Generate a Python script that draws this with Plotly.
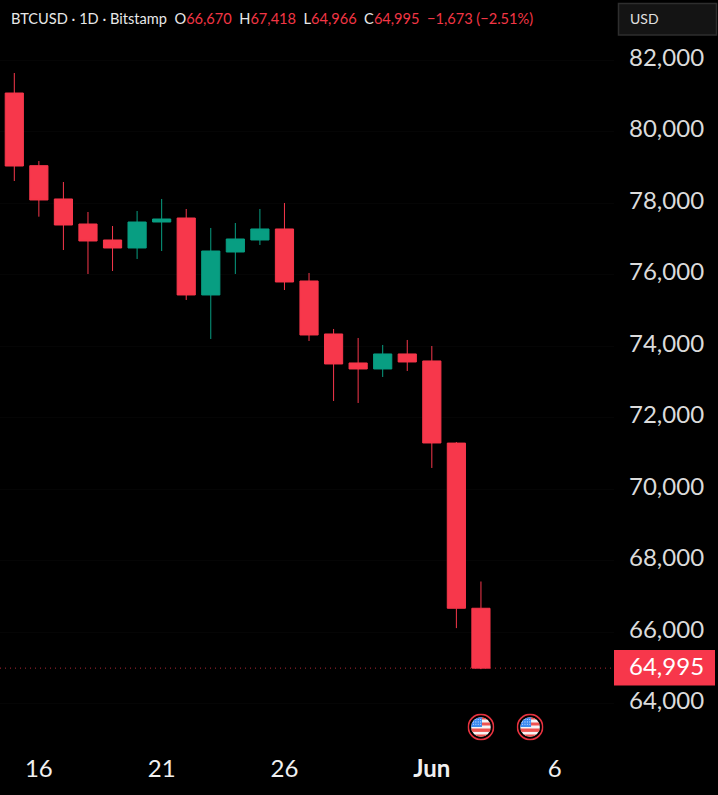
import base64
import pandas as pd
import plotly.graph_objects as go

# Daily BTCUSD candles
dates = pd.date_range("2026-05-15", periods=20).strftime("%Y-%m-%d").tolist()
opens = [81082, 79050, 78118, 77418, 76971, 76747, 77474, 77586, 75433, 76635,
         76971, 77279, 75824, 74342, 73531, 73363, 73783, 73587, 71290, 66670]
highs = [81642, 79180, 78593, 77754, 77362, 77782, 78118, 77838, 77307, 77446,
         77838, 78006, 76048, 74482, 74230, 74034, 74174, 74006, 71320, 67418]
lows = [78621, 77623, 76691, 76020, 76104, 76440, 76663, 75293, 74202, 76020,
        76831, 75572, 74146, 72468, 72412, 73139, 73307, 70594, 66114, 64966]
closes = [79040, 78090, 77390, 76943, 76747, 77474, 77558, 75433, 76663, 76999,
          77279, 75796, 74314, 73503, 73363, 73783, 73559, 71293, 66670, 64995]

price_ticks = list(range(64000, 84000, 2000))
price_labels = [f"{v:,}" for v in price_ticks]
date_ticks = ["2026-05-16", "2026-05-21", "2026-05-26", "2026-06-01", "2026-06-06"]
date_labels = ["16", "21", "26", "<b>Jun</b>", "6"]
event_dates = ["2026-06-03", "2026-06-05"]
last_price = 64995

RED = "#f7374b"
GREEN = "#089e82"
BG = "#000000"
FONT = "Lato"

WIDTH, HEIGHT = 718, 795
PLOT_W, PLOT_H = 614, 745

# Axis windows: pixels per day and per dollar of the price scale
PX_PER_DAY = 24.56
FIRST_X = 14.3
start = pd.Timestamp(dates[0])
x_range = [start + pd.Timedelta(days=-FIRST_X / PX_PER_DAY),
           start + pd.Timedelta(days=(PLOT_W - FIRST_X) / PX_PER_DAY)]
PX_PER_USD = 0.03575
y_top = 80000 + 131.7 / PX_PER_USD
y_bottom = 80000 - (PLOT_H - 131.7) / PX_PER_USD


def paper_x(px):
    return px / PLOT_W


def paper_y(px):
    return 1 - px / PLOT_H


def date_px(day):
    return FIRST_X + (pd.Timestamp(day) - start).days * PX_PER_DAY


# Round US-flag badge for economic events
star_dots = "".join(
    f'<circle cx="{cx}" cy="{cy}" r="0.55" fill="#cfe3ff"/>'
    for cx in (6, 8.4, 10.8, 13.2) for cy in (6, 8.4, 10.8)
)
flag_svg = f"""<svg xmlns="http://www.w3.org/2000/svg" width="54" height="54" viewBox="0 0 27 27">
<defs><clipPath id="c"><circle cx="13.5" cy="13.5" r="9.8"/></clipPath></defs>
<circle cx="13.5" cy="13.5" r="12.6" fill="#000" stroke="#e8323f" stroke-width="1.6"/>
<g clip-path="url(#c)">
<rect x="3" y="3" width="21" height="21" fill="#f5f5f5"/>
<rect x="3" y="3" width="21" height="3" fill="#ef5350"/>
<rect x="3" y="9" width="21" height="3" fill="#ef5350"/>
<rect x="3" y="15" width="21" height="3.4" fill="#ef5350"/>
<rect x="3" y="21" width="21" height="3" fill="#ef5350"/>
<rect x="3" y="3" width="11.5" height="10.5" fill="#3d8bf0"/>
{star_dots}
</g></svg>"""
flag_uri = "data:image/svg+xml;base64," + base64.b64encode(flag_svg.encode()).decode()

fig = go.Figure(go.Candlestick(
    x=dates, open=opens, high=highs, low=lows, close=closes,
    increasing=dict(line=dict(color=GREEN, width=1), fillcolor=GREEN),
    decreasing=dict(line=dict(color=RED, width=1), fillcolor=RED),
    whiskerwidth=0,
    hoverinfo="skip",
))

header = (
    '<span style="color:#e8e8e8">BTCUSD · 1D · Bitstamp  O</span>66,670'
    '<span style="color:#e8e8e8">  H</span>67,418'
    '<span style="color:#e8e8e8">  L</span>64,966'
    '<span style="color:#e8e8e8">  C</span>64,995  −1,673 (−2.51%)'
)

fig.update_layout(
    width=WIDTH, height=HEIGHT,
    margin=dict(l=0, r=WIDTH - PLOT_W, t=0, b=HEIGHT - PLOT_H, pad=0),
    paper_bgcolor=BG, plot_bgcolor=BG,
    showlegend=False,
    boxmode="group", boxgap=0.26, boxgroupgap=0,
    font=dict(family=FONT, color="#dbdbdb"),
    xaxis=dict(
        type="date", range=x_range, rangeslider=dict(visible=False),
        tickmode="array", tickvals=date_ticks, ticktext=date_labels,
        tickfont=dict(size=24, color="#f0f0f0", family=FONT),
        ticks="", ticklen=0, ticklabelstandoff=7,
        showgrid=False, zeroline=False, showline=False,
    ),
    yaxis=dict(
        side="right", range=[y_bottom, y_top],
        tickmode="array", tickvals=price_ticks, ticktext=price_labels,
        tickfont=dict(size=24, color="#dbdbdb", family=FONT),
        ticks="", ticklen=0, ticklabelstandoff=14, ticklabelshift=-3,
        showgrid=True, gridcolor="#050505", gridwidth=1, zeroline=False, showline=False,
    ),
    shapes=[
        # Last-price line
        dict(type="line", xref="paper", x0=0, x1=1, yref="y", y0=last_price, y1=last_price,
             line=dict(color=RED, width=1, dash="1px,4px"), layer="below", opacity=0.7),
        # Last-price tag on the scale
        dict(type="rect", xref="paper", yref="paper",
             x0=paper_x(614), x1=paper_x(715), y0=paper_y(650), y1=paper_y(685.5),
             fillcolor=RED, line=dict(width=0), layer="above"),
        # Currency selector box
        dict(type="rect", xref="paper", yref="paper",
             x0=paper_x(618.5), x1=paper_x(716.5), y0=paper_y(3.5), y1=paper_y(35),
             fillcolor="#141414", line=dict(color="#2e2e2e", width=1.5)),
    ],
    annotations=[
        dict(text=header, xref="paper", yref="paper", x=paper_x(9), y=paper_y(18),
             xanchor="left", yanchor="middle", showarrow=False,
             font=dict(size=14.6, color="#f23645", family=FONT)),
        dict(text="USD", xref="paper", yref="paper", x=paper_x(628), y=paper_y(19),
             xanchor="left", yanchor="middle", showarrow=False,
             font=dict(size=14, color="#e0e0e0", family=FONT)),
        dict(text=f"{last_price:,}", xref="paper", yref="paper",
             x=paper_x(705), y=paper_y(665),
             xanchor="right", yanchor="middle", showarrow=False, borderpad=0,
             font=dict(size=24, color="#ffffff", family=FONT)),
    ],
    images=[
        dict(source=flag_uri, xref="paper", yref="paper",
             x=paper_x(date_px(d)), y=paper_y(727),
             sizex=27 / PLOT_W, sizey=27 / PLOT_H,
             xanchor="center", yanchor="middle", layer="above")
        for d in event_dates
    ],
)

fig.write_html("out.html", config=dict(displayModeBar=False))
